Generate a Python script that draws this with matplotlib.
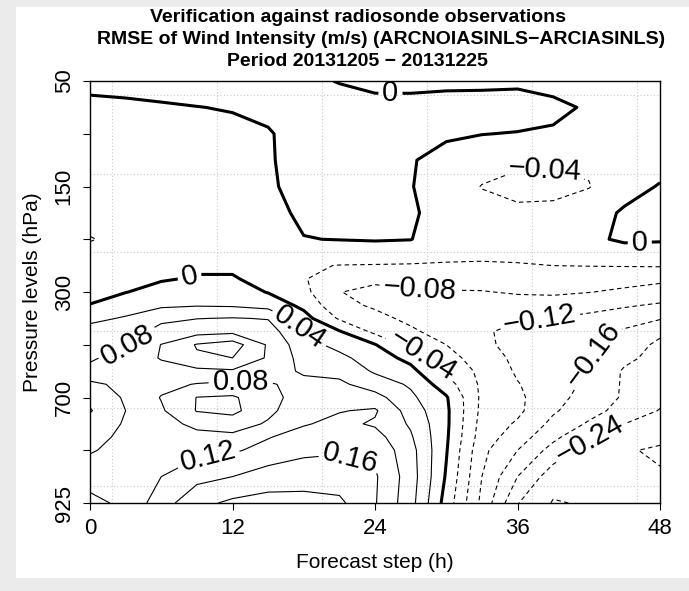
import numpy as np
import matplotlib
matplotlib.use("Agg")
import matplotlib.pyplot as plt
from matplotlib.patches import Rectangle

plt.rcParams['font.family'] = ['Liberation Sans', 'DejaVu Sans']

# ---------------- data ----------------
forecast_steps = [0, 3, 6, 9, 12, 15, 18, 21, 24, 27, 30, 33, 36, 39, 42, 45, 48]
# vertical position on the (evenly spaced) pressure-level axis, 0 = 50 hPa, 8 = 925 hPa
level_pos = [0, 0.5, 1, 1.5, 2, 2.5, 3, 3.5, 3.75, 4, 4.25, 4.5, 4.75, 5, 5.25,
             5.5, 5.75, 6, 6.25, 6.5, 6.75, 7, 7.5, 8]
pressure_levels = [50, 100, 150, 200, 300, 500, 700, 850, 925]
pressure_labels = ['50', '', '150', '', '300', '', '700', '', '925']
x_ticks = [0, 12, 24, 36, 48]

rmse_diff = [
    [0.015, 0.020, 0.022, 0.025, 0.025, 0.022, 0.010, -0.002, -0.012, -0.014, -0.012, -0.012, -0.010, -0.012, -0.015, -0.016, -0.016],
    [-0.013, -0.011, -0.0055, -0.001, 0.003, 0.012, 0.018, 0.018, 0.014, 0.016, 0.020, 0.022, 0.023, 0.008, -0.004, -0.012, -0.015],
    [-0.016, -0.016, -0.015, -0.013, -0.012, -0.004, 0.020, 0.022, 0.020, 0.012, 0.006, 0.001, -0.002, -0.004, -0.012, -0.016, -0.016],
    [-0.020, -0.020, -0.020, -0.018, -0.016, -0.004, 0.016, 0.020, 0.016, 0.003, -0.014, -0.028, -0.036, -0.036, -0.033, -0.020, -0.012],
    [-0.026, -0.025, -0.024, -0.022, -0.020, -0.005, 0.012, 0.018, 0.016, 0.002, -0.022, -0.041, -0.046, -0.047, -0.042, -0.012, 0.002],
    [-0.032, -0.030, -0.028, -0.026, -0.023, -0.010, 0.006, 0.012, 0.012, 0.006, -0.018, -0.030, -0.036, -0.034, -0.014, 0.004, 0.010],
    [-0.041, -0.035, -0.031, -0.029, -0.027, -0.022, -0.001, 0.001, 0.003, 0.001, -0.020, -0.030, -0.032, -0.030, -0.008, 0.006, 0.004],
    [-0.030, -0.022, -0.013, -0.006, -0.006, -0.022, -0.036, -0.041, -0.042, -0.043, -0.043, -0.042, -0.041, -0.040, -0.039, -0.038, -0.037],
    [-0.022, -0.012, -0.003, 0.003, 0.003, -0.012, -0.037, -0.065, -0.072, -0.065, -0.063, -0.062, -0.058, -0.057, -0.062, -0.067, -0.072],
    [-0.010, -0.001, 0.012, 0.020, 0.020, -0.002, -0.030, -0.079, -0.090, -0.085, -0.083, -0.082, -0.076, -0.074, -0.079, -0.086, -0.095],
    [0.001, 0.020, 0.033, 0.037, 0.035, 0.025, -0.010, -0.070, -0.085, -0.094, -0.097, -0.100, -0.098, -0.098, -0.105, -0.115, -0.125],
    [0.030, 0.044, 0.070, 0.079, 0.082, 0.078, 0.015, -0.045, -0.070, -0.088, -0.100, -0.110, -0.116, -0.120, -0.130, -0.143, -0.157],
    [0.055, 0.058, 0.095, 0.105, 0.110, 0.098, 0.041, 0.003, -0.050, -0.074, -0.095, -0.115, -0.130, -0.140, -0.150, -0.165, -0.190],
    [0.065, 0.077, 0.121, 0.163, 0.180, 0.115, 0.055, 0.028, 0.002, -0.056, -0.080, -0.108, -0.138, -0.150, -0.155, -0.175, -0.210],
    [0.076, 0.092, 0.123, 0.155, 0.160, 0.115, 0.065, 0.050, 0.020, -0.012, -0.066, -0.098, -0.130, -0.148, -0.158, -0.190, -0.215],
    [0.088, 0.100, 0.105, 0.110, 0.115, 0.100, 0.074, 0.068, 0.035, 0.012, -0.048, -0.090, -0.125, -0.140, -0.160, -0.205, -0.225],
    [0.130, 0.108, 0.090, 0.078, 0.070, 0.076, 0.092, 0.088, 0.060, 0.035, -0.022, -0.088, -0.118, -0.142, -0.168, -0.205, -0.228],
    [0.150, 0.115, 0.078, 0.039, 0.035, 0.065, 0.100, 0.100, 0.095, 0.048, 0.004, -0.088, -0.112, -0.147, -0.175, -0.205, -0.230],
    [0.163, 0.120, 0.085, 0.038, 0.030, 0.070, 0.108, 0.118, 0.125, 0.062, 0.008, -0.090, -0.112, -0.155, -0.185, -0.215, -0.242],
    [0.145, 0.116, 0.095, 0.070, 0.060, 0.085, 0.117, 0.130, 0.115, 0.075, 0.008, -0.095, -0.125, -0.170, -0.205, -0.240, -0.255],
    [0.135, 0.110, 0.100, 0.092, 0.090, 0.118, 0.135, 0.145, 0.135, 0.085, 0.006, -0.100, -0.140, -0.190, -0.235, -0.258, -0.270],
    [0.124, 0.105, 0.105, 0.108, 0.115, 0.132, 0.150, 0.156, 0.150, 0.095, 0.003, -0.110, -0.160, -0.215, -0.255, -0.276, -0.286],
    [0.095, 0.097, 0.120, 0.148, 0.160, 0.180, 0.185, 0.180, 0.165, 0.100, -0.004, -0.120, -0.200, -0.262, -0.272, -0.278, -0.276],
    [0.070, 0.088, 0.142, 0.188, 0.208, 0.214, 0.212, 0.208, 0.163, 0.095, -0.016, -0.130, -0.238, -0.283, -0.276, -0.270, -0.268],
]

neg_levels = [-0.28, -0.24, -0.20, -0.16, -0.12, -0.08, -0.04]
zero_level = [0.0]
pos_levels = [0.04, 0.08, 0.12, 0.16, 0.20]

title_lines = ["Verification against radiosonde observations",
               "RMSE of Wind Intensity (m/s) (ARCNOIASINLS\u2212ARCIASINLS)",
               "Period 20131205 \u2212 20131225"]

# ---------------- figure ----------------
W, H = 689, 591
fig = plt.figure(figsize=(W / 100, H / 100), dpi=100, facecolor='#ebebeb')
fig.patches.append(Rectangle((16 / W, 1 - 578 / H), 1 - 16 / W, (578 - 7) / H,
                             transform=fig.transFigure, facecolor='white',
                             edgecolor='none', zorder=-10))

ax = fig.add_axes([90 / W, 1 - 503 / H, 570 / W, 422 / H])
ax.set_zorder(1)
ax.set_xlim(0, 48)
ax.set_ylim(8, 0)

# dotted grid
for gx in [1.85, 10.7, 19.55, 28.4, 37.25, 46.1]:
    ax.axvline(gx, color='#c8c8c8', lw=0.8, ls=(0, (1, 2)), zorder=1)
for gy in [0.27, 1.76, 3.24, 4.73, 6.2, 7.68]:
    ax.axhline(gy, color='#c8c8c8', lw=0.8, ls=(0, (1, 2)), zorder=1)

X = np.array(forecast_steps, dtype=float)
Y = np.array(level_pos, dtype=float)
Z = np.array(rmse_diff)


def fmt(v):
    if abs(v) < 1e-9:
        return '0'
    return ('%.2f' % v).replace('-', '\u2212')


cs_neg = ax.contour(X, Y, Z, levels=neg_levels, colors='black', linewidths=0.8, zorder=3)
cs_neg.set_linestyle((0, (4, 3)))
cs_zero = ax.contour(X, Y, Z, levels=zero_level, colors='black', linewidths=2.2, zorder=3)
cs_pos = ax.contour(X, Y, Z, levels=pos_levels, colors='black', linewidths=0.8, zorder=3)

lab_kw = dict(fmt=fmt, fontsize=21, inline=True, inline_spacing=4)
ax.clabel(cs_zero, manual=[(25.3, 0.27), (8.4, 3.72), (46.3, 3.1)], **lab_kw)
ax.clabel(cs_neg, manual=[(38.3, 1.78), (27.8, 3.92), (27.8, 5.3), (37.9, 4.57),
                          (43.2, 5.29), (42.1, 6.8)], **lab_kw)
ax.clabel(cs_pos, manual=[(2.9, 4.95), (17.3, 4.76), (12.7, 5.7), (10.0, 7.25),
                          (22.0, 7.1)], **lab_kw)

ax.set_xticks(x_ticks)
ax.set_xticklabels([str(t) for t in x_ticks], fontsize=16)
ax.set_yticks(range(len(pressure_levels)))
ax.set_yticklabels(pressure_labels, fontsize=16, rotation=90, va='center')
ax.tick_params(direction='out', length=5, width=0.8, pad=6, colors='black')
for s in ax.spines.values():
    s.set_linewidth(1.0)

fig.text(375 / W, 1 - 563 / H, 'Forecast step (h)', ha='center', va='center', fontsize=15)
fig.text(33 / W, 1 - 292 / H, 'Pressure levels (hPa)', ha='center', va='center',
         rotation=90, fontsize=15)
title_cx = [358, 381, 357]
for i, t in enumerate(title_lines):
    fig.text(title_cx[i] / W, 1 - (17 + 22.5 * i) / H, t, ha='center', va='center',
             fontsize=14, fontweight='bold')

fig.savefig('out.png', dpi=100, facecolor=fig.get_facecolor())
